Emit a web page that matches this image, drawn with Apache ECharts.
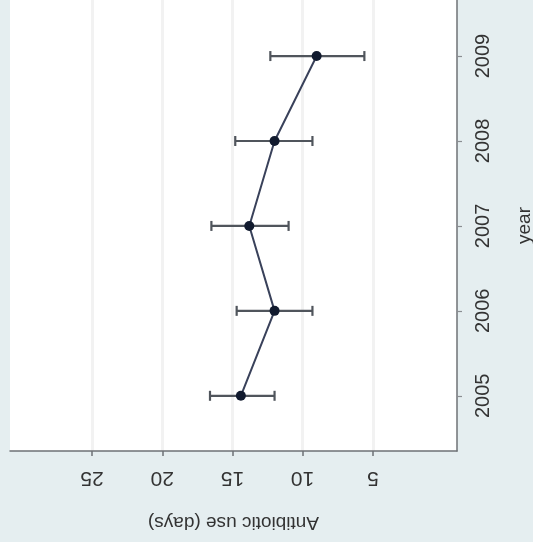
<!DOCTYPE html>
<html>
<head>
<meta charset="utf-8">
<script src="https://cdn.jsdelivr.net/npm/echarts@6/dist/echarts.min.js"></script>
<style>
  html, body { margin: 0; padding: 0; background: #e5eef0; }
  #myChart { width: 533px; height: 542px; }
</style>
</head>
<body>
<div id="myChart"></div>
<script>
// data (chart is photographed rotated a quarter turn)
var years = [2005, 2006, 2007, 2008, 2009];
var meanDays = [14.4, 12.0, 13.8, 12.0, 9.0];
var lowerCI = [12.0, 9.3, 11.0, 9.3, 5.6];
var upperCI = [16.6, 14.7, 16.5, 14.8, 12.3];
var dayTicks = [5, 10, 15, 20, 25];

var myChart = echarts.init(document.getElementById("myChart"));

var points = years.map(function (y, i) { return [meanDays[i], y]; });
var bars = years.map(function (y, i) { return [lowerCI[i], upperCI[i], y]; });

var textFont = { fontFamily: "Liberation Sans, Arial, sans-serif", color: "#333333" };

var option = {
  backgroundColor: "#e5eef0",
  animation: false,
  grid: {
    left: 10, right: 76, top: 0, bottom: 91,
    outerBoundsMode: "none",
    containLabel: false,
    show: true, backgroundColor: "#ffffff", borderWidth: 0
  },
  xAxis: {
    type: "value",
    inverse: true,
    min: -1,
    max: 30.85,
    name: "Antibiotic use (days)",
    nameLocation: "middle",
    nameRotate: 180,
    nameGap: 62,
    nameTextStyle: Object.assign({ fontSize: 19 }, textFont),
    axisLine: { show: true, onZero: false, lineStyle: { color: "#6e7276", width: 1.5 } },
    axisTick: { show: true, length: 5, customValues: dayTicks, lineStyle: { color: "#6e7276", width: 1.5 } },
    axisLabel: Object.assign({ fontSize: 21, rotate: 180, margin: 16, customValues: dayTicks }, textFont),
    splitLine: { show: true, lineStyle: { color: "#f2f2f2", width: 3 } }
  },
  yAxis: {
    type: "value",
    position: "right",
    min: 2004.35,
    max: 2009.66,
    name: "year",
    nameLocation: "middle",
    nameRotate: 90,
    nameGap: 58,
    nameTextStyle: Object.assign({ fontSize: 19 }, textFont),
    axisLine: { show: true, onZero: false, lineStyle: { color: "#6e7276", width: 1.5 } },
    axisTick: { show: true, length: 5, customValues: years, lineStyle: { color: "#8a8e92", width: 1.2 } },
    axisLabel: Object.assign({
      fontSize: 20, rotate: 90, margin: 16, customValues: years,
      formatter: function (v) { return String(v); }
    }, textFont),
    splitLine: { show: false }
  },
  series: [
    {
      // confidence interval whiskers
      type: "custom",
      data: bars,
      encode: { x: [0, 1], y: 2 },
      z: 2,
      renderItem: function (params, api) {
        var a = api.coord([api.value(0), api.value(2)]);
        var b = api.coord([api.value(1), api.value(2)]);
        var cap = 5;
        var style = { stroke: "#50555c", lineWidth: 2.2 };
        return {
          type: "group",
          children: [
            { type: "line", shape: { x1: a[0], y1: a[1], x2: b[0], y2: b[1] }, style: style },
            { type: "line", shape: { x1: a[0], y1: a[1] - cap, x2: a[0], y2: a[1] + cap }, style: style },
            { type: "line", shape: { x1: b[0], y1: b[1] - cap, x2: b[0], y2: b[1] + cap }, style: style }
          ]
        };
      }
    },
    {
      type: "line",
      data: points,
      z: 3,
      symbol: "circle",
      symbolSize: 10,
      lineStyle: { color: "#39415a", width: 2 },
      itemStyle: { color: "#111a2e" }
    }
  ]
};
myChart.setOption(option);
</script>
</body>
</html>
